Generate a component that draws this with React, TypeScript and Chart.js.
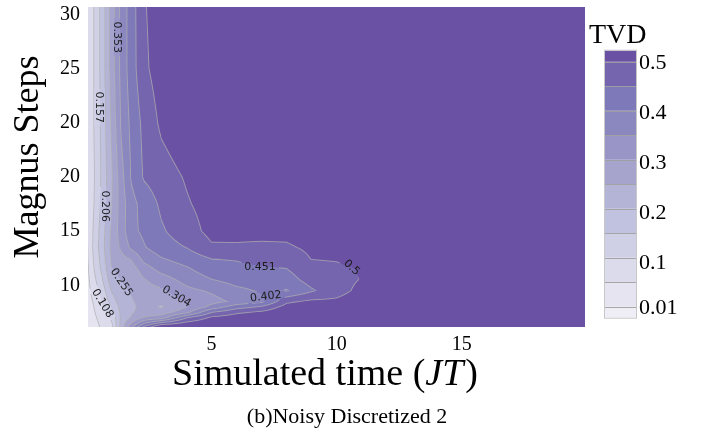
import React, { useEffect, useRef } from "react";
import { Chart, registerables } from "chart.js";

Chart.register(...registerables);

// ---------------- data ----------------
// simulated time (JT) grid nodes
const timeGrid = [0.06, 0.3, 0.6, 1.0, 1.4, 1.8, 2.3, 3, 4, 5, 6, 7, 8, 9, 10, 11, 12, 14, 20];
// Magnus steps grid nodes (axis units), top to bottom
const stepGrid = [35.67, 30, 25, 20, 17.5, 15, 13.5, 12.5, 11.5, 10.5, 9.5, 8.5, 8, 7.5, 7, 6.15];
// TVD values on the grid (one row per step value, one column per time value)
const tvdRow0 = [0.075, 0.109, 0.172, 0.276, 0.371, 0.428, 0.495, 0.53, 0.55, 0.56, 0.56, 0.56, 0.56, 0.56, 0.56, 0.56, 0.56, 0.56, 0.56];
const tvdRow1 = [0.075, 0.109, 0.172, 0.276, 0.371, 0.428, 0.49, 0.525, 0.55, 0.56, 0.56, 0.56, 0.56, 0.56, 0.56, 0.56, 0.56, 0.56, 0.56];
const tvdRow2 = [0.075, 0.109, 0.167, 0.263, 0.362, 0.415, 0.465, 0.51, 0.54, 0.555, 0.56, 0.56, 0.56, 0.56, 0.56, 0.56, 0.56, 0.56, 0.56];
const tvdRow3 = [0.07, 0.105, 0.163, 0.248, 0.337, 0.408, 0.456, 0.477, 0.505, 0.53, 0.55, 0.56, 0.56, 0.56, 0.56, 0.56, 0.56, 0.56, 0.56];
const tvdRow4 = [0.07, 0.108, 0.166, 0.252, 0.33, 0.385, 0.422, 0.46, 0.495, 0.52, 0.54, 0.55, 0.555, 0.56, 0.56, 0.56, 0.56, 0.56, 0.56];
const tvdRow5 = [0.065, 0.117, 0.178, 0.265, 0.33, 0.39, 0.412, 0.445, 0.478, 0.515, 0.512, 0.515, 0.515, 0.53, 0.54, 0.55, 0.555, 0.56, 0.56];
const tvdRow6 = [0.062, 0.122, 0.183, 0.268, 0.315, 0.365, 0.398, 0.43, 0.452, 0.493, 0.495, 0.491, 0.493, 0.51, 0.525, 0.54, 0.55, 0.56, 0.56];
const tvdRow7 = [0.06, 0.115, 0.175, 0.262, 0.29, 0.31, 0.37, 0.40, 0.425, 0.453, 0.455, 0.467, 0.47, 0.502, 0.505, 0.52, 0.55, 0.56, 0.56];
const tvdRow8 = [0.055, 0.108, 0.165, 0.252, 0.27, 0.28, 0.33, 0.37, 0.395, 0.43, 0.44, 0.445, 0.45, 0.485, 0.49, 0.503, 0.55, 0.56, 0.56];
const tvdRow9 = [0.05, 0.095, 0.148, 0.235, 0.258, 0.265, 0.30, 0.33, 0.37, 0.40, 0.42, 0.426, 0.43, 0.47, 0.48, 0.503, 0.545, 0.56, 0.56];
const tvdRow10 = [0.045, 0.08, 0.125, 0.21, 0.245, 0.26, 0.285, 0.295, 0.34, 0.36, 0.39, 0.408, 0.398, 0.445, 0.48, 0.515, 0.545, 0.56, 0.56];
const tvdRow11 = [0.04, 0.065, 0.105, 0.18, 0.235, 0.25, 0.275, 0.265, 0.31, 0.335, 0.365, 0.39, 0.49, 0.51, 0.51, 0.53, 0.55, 0.56, 0.56];
const tvdRow12 = [0.035, 0.06, 0.095, 0.16, 0.225, 0.245, 0.27, 0.25, 0.30, 0.37, 0.43, 0.458, 0.52, 0.53, 0.535, 0.54, 0.55, 0.56, 0.56];
const tvdRow13 = [0.03, 0.055, 0.085, 0.14, 0.22, 0.25, 0.275, 0.28, 0.34, 0.45, 0.49, 0.51, 0.54, 0.54, 0.545, 0.55, 0.555, 0.56, 0.56];
const tvdRow14 = [0.025, 0.05, 0.075, 0.115, 0.22, 0.26, 0.31, 0.33, 0.45, 0.51, 0.53, 0.54, 0.55, 0.55, 0.55, 0.555, 0.56, 0.56, 0.56];
const tvdRow15 = [0.02, 0.04, 0.065, 0.095, 0.23, 0.34, 0.46, 0.56, 0.56, 0.56, 0.56, 0.56, 0.56, 0.56, 0.56, 0.56, 0.56, 0.56, 0.56];
const tvdGrid = [tvdRow0, tvdRow1, tvdRow2, tvdRow3, tvdRow4, tvdRow5, tvdRow6, tvdRow7, tvdRow8, tvdRow9, tvdRow10, tvdRow11, tvdRow12, tvdRow13, tvdRow14, tvdRow15];

const levels = [0.01, 0.059, 0.108, 0.157, 0.206, 0.255, 0.304, 0.353, 0.402, 0.451, 0.5];
const bandColors = ["#efedf5", "#e6e4f0", "#dcdbec", "#cfd0e6", "#c1c2df", "#b4b4d7", "#a6a3cd", "#9995c6", "#8b87bf", "#7e79b8", "#7465ae", "#6a51a3"];

const xTickValues = [5, 10, 15];
const yTickValues = [10, 15, 20, 25, 30, 35];
const yTickLabels = ["10", "15", "20", "20", "25", "30"];
const colorbarTicks = [0.01, 0.1, 0.2, 0.3, 0.4, 0.5];
const colorbarTickLabels = ["0.01", "0.1", "0.2", "0.3", "0.4", "0.5"];

const contourLabelText = ["0.353", "0.157", "0.206", "0.255", "0.108", "0.304", "0.451", "0.402", "0.5"];
const contourLabelTime = [1.25, 0.53, 0.77, 1.41, 0.65, 3.61, 6.94, 7.17, 10.61];
const contourLabelSteps = [32.88, 26.42, 17.29, 10.28, 8.34, 8.99, 11.75, 8.99, 11.66];
const contourLabelAngle = [90, 90, 90, 56, 59, 31, 0, -7, 42];

// ---------------- helpers ----------------
const SERIF = '"Liberation Serif", serif';
const LABEL_FONT = '11px "DejaVu Sans", sans-serif';
const LINE_RGB = [176, 176, 176];
const LINE_ALPHA = 0.72;

function hexToRgb(h: string): number[] {
  return [parseInt(h.slice(1, 3), 16), parseInt(h.slice(3, 5), 16), parseInt(h.slice(5, 7), 16)];
}
const bandRgb = bandColors.map(hexToRgb);

function locate(grid: number[], val: number): [number, number] {
  const n = grid.length;
  for (let i = 0; i < n - 1; i++) {
    const a = grid[i], b = grid[i + 1];
    if ((val - a) * (val - b) <= 0) return [i, (val - a) / (b - a)];
  }
  if (Math.abs(val - grid[0]) < Math.abs(val - grid[n - 1])) return [0, 0];
  return [n - 2, 1];
}

function bandOf(v: number): number {
  let k = 0;
  while (k < levels.length && v >= levels[k]) k++;
  return k;
}

// colorbar geometry
const CB_LEFT = 605;
const CB_RIGHT = 636;
const CB_EXT = 11;
function cbY(level: number): number {
  return 306.7 - ((level - levels[0]) / (levels[1] - levels[0])) * 24.5;
}

const contourPlugin = {
  id: "contourFill",
  beforeDatasetsDraw(chart: any) {
    const { ctx, chartArea, scales } = chart;
    const xs = scales.x, ys = scales.y;
    const left = Math.round(chartArea.left), top = Math.round(chartArea.top);
    const w = Math.round(chartArea.right) - left, h = Math.round(chartArea.bottom) - top;
    const colIdx = new Int32Array(w), colFrac = new Float32Array(w);
    for (let i = 0; i < w; i++) {
      const t = xs.getValueForPixel(left + i + 0.5);
      const [k, f] = locate(timeGrid, t);
      colIdx[i] = k; colFrac[i] = f;
    }
    const vals = new Float32Array(w * h);
    for (let j = 0; j < h; j++) {
      const v = ys.getValueForPixel(top + j + 0.5);
      const [r, g] = locate(stepGrid, v);
      const row0 = tvdGrid[r], row1 = tvdGrid[r + 1];
      for (let i = 0; i < w; i++) {
        const k = colIdx[i], f = colFrac[i];
        const a = row0[k] * (1 - f) + row0[k + 1] * f;
        const b = row1[k] * (1 - f) + row1[k + 1] * f;
        vals[j * w + i] = a * (1 - g) + b * g;
      }
    }
    ctx.save();
    ctx.font = LABEL_FONT;
    const boxes = contourLabelText.map((txt, n) => ({
      cx: xs.getPixelForValue(contourLabelTime[n]) - left,
      cy: ys.getPixelForValue(contourLabelSteps[n]) - top,
      a: (contourLabelAngle[n] * Math.PI) / 180,
      hw: ctx.measureText(txt).width / 2 + 3,
      hh: 5.5,
    }));
    ctx.restore();
    const img = ctx.createImageData(w, h);
    const d = img.data;
    for (let j = 0; j < h; j++) {
      for (let i = 0; i < w; i++) {
        const p = j * w + i;
        const val = vals[p];
        const band = bandOf(val);
        const col = bandRgb[band];
        const il = Math.max(i - 1, 0), ir = Math.min(i + 1, w - 1);
        const ju = Math.max(j - 1, 0), jd = Math.min(j + 1, h - 1);
        const gx = (vals[j * w + ir] - vals[j * w + il]) / Math.max(ir - il, 1);
        const gy = (vals[jd * w + i] - vals[ju * w + i]) / Math.max(jd - ju, 1);
        const gm = Math.max(Math.hypot(gx, gy), 1e-7);
        let dist = 1e9;
        if (band > 0) dist = Math.min(dist, Math.abs(val - levels[band - 1]) / gm);
        if (band < levels.length) dist = Math.min(dist, Math.abs(levels[band] - val) / gm);
        let cov = Math.max(0, Math.min(1, 1 - dist / 0.95)) * LINE_ALPHA;
        if (cov > 0) {
          for (const bx of boxes) {
            const dx = i + 0.5 - bx.cx, dy = j + 0.5 - bx.cy;
            const u = dx * Math.cos(bx.a) + dy * Math.sin(bx.a);
            const vv = -dx * Math.sin(bx.a) + dy * Math.cos(bx.a);
            if (Math.abs(u) < bx.hw && Math.abs(vv) < bx.hh) { cov = 0; break; }
          }
        }
        const q = p * 4;
        d[q] = col[0] * (1 - cov) + LINE_RGB[0] * cov;
        d[q + 1] = col[1] * (1 - cov) + LINE_RGB[1] * cov;
        d[q + 2] = col[2] * (1 - cov) + LINE_RGB[2] * cov;
        d[q + 3] = 255;
      }
    }
    ctx.putImageData(img, left, top);
  },
  afterDatasetsDraw(chart: any) {
    const { ctx, scales } = chart;
    ctx.save();
    ctx.font = LABEL_FONT;
    ctx.fillStyle = "#1c1c1c";
    ctx.textAlign = "center";
    ctx.textBaseline = "middle";
    contourLabelText.forEach((txt, n) => {
      const px = scales.x.getPixelForValue(contourLabelTime[n]);
      const py = scales.y.getPixelForValue(contourLabelSteps[n]);
      ctx.save();
      ctx.translate(px, py);
      ctx.rotate((contourLabelAngle[n] * Math.PI) / 180);
      ctx.fillText(txt, 0, 0.5);
      ctx.restore();
    });
    ctx.restore();
  },
  afterDraw(chart: any) {
    const { ctx } = chart;
    ctx.save();
    // colorbar bands
    for (let b = 0; b < bandColors.length; b++) {
      const yBottom = b === 0 ? cbY(levels[0]) + CB_EXT : cbY(levels[b - 1]);
      const yTop = b === levels.length ? cbY(levels[levels.length - 1]) - CB_EXT : cbY(levels[b]);
      ctx.fillStyle = bandColors[b];
      ctx.fillRect(CB_LEFT, yTop, CB_RIGHT - CB_LEFT, yBottom - yTop);
    }
    ctx.strokeStyle = "rgba(160,160,160,0.9)";
    ctx.lineWidth = 1;
    levels.forEach((lv) => {
      const y = Math.round(cbY(lv)) + 0.5;
      ctx.beginPath();
      ctx.moveTo(CB_LEFT, y);
      ctx.lineTo(CB_RIGHT, y);
      ctx.stroke();
    });
    ctx.strokeStyle = "rgba(200,200,200,1)";
    ctx.strokeRect(CB_LEFT - 0.5, cbY(levels[levels.length - 1]) - CB_EXT - 0.5, CB_RIGHT - CB_LEFT + 1, cbY(levels[0]) - cbY(levels[levels.length - 1]) + 2 * CB_EXT + 1);
    // colorbar ticks
    ctx.fillStyle = "#000";
    ctx.font = `22px ${SERIF}`;
    ctx.textAlign = "left";
    ctx.textBaseline = "middle";
    colorbarTicks.forEach((tv, n) => {
      ctx.fillText(colorbarTickLabels[n], 639, cbY(tv) + 1.5);
    });
    // colorbar title
    ctx.font = `28px ${SERIF}`;
    ctx.textBaseline = "alphabetic";
    ctx.fillText("TVD", 589, 43);
    // y axis title
    ctx.save();
    ctx.font = `36px ${SERIF}`;
    ctx.textAlign = "center";
    ctx.translate(38, 157);
    ctx.rotate(-Math.PI / 2);
    ctx.fillText("Magnus Steps", 0, 0);
    ctx.restore();
    // x axis title with italic JT
    const partA = "Simulated time (";
    const partB = "JT";
    const partC = ")";
    const fs = 38;
    ctx.font = `${fs}px ${SERIF}`;
    const wA = ctx.measureText(partA).width;
    const wC = ctx.measureText(partC).width;
    ctx.font = `italic ${fs}px ${SERIF}`;
    const wB = ctx.measureText(partB).width + 2;
    const total = wA + wB + wC;
    const x0 = 325 - total / 2;
    ctx.textAlign = "left";
    ctx.font = `${fs}px ${SERIF}`;
    ctx.fillText(partA, x0, 385);
    ctx.font = `italic ${fs}px ${SERIF}`;
    ctx.fillText(partB, x0 + wA, 385);
    ctx.font = `${fs}px ${SERIF}`;
    ctx.fillText(partC, x0 + wA + wB, 385);
    // caption
    ctx.font = `22px ${SERIF}`;
    ctx.textAlign = "center";
    ctx.fillText("(b)Noisy Discretized 2", 347, 423);
    ctx.restore();
  },
};

export default function App() {
  const ref = useRef<HTMLCanvasElement | null>(null);
  useEffect(() => {
    document.body.style.margin = "0";
    const canvas = ref.current;
    if (!canvas) return;
    const chart = new Chart(canvas, {
      type: "scatter",
      data: { datasets: [{ data: [], pointRadius: 0 }] },
      options: {
        animation: false,
        responsive: false,
        devicePixelRatio: 1,
        layout: { padding: { top: 7, right: 142, left: 0, bottom: 0 } },
        plugins: { legend: { display: false }, tooltip: { enabled: false } },
        scales: {
          x: {
            type: "linear",
            min: 0.06,
            max: 19.93,
            grid: { display: false, drawTicks: false },
            border: { display: false },
            afterBuildTicks: (s: any) => { s.ticks = xTickValues.map((v) => ({ value: v })); },
            ticks: { font: { family: SERIF, size: 20 }, color: "#000", padding: 6, maxRotation: 0, autoSkip: false },
            afterFit: (s: any) => { s.height = 109; s.paddingLeft = 0; s.paddingRight = 0; },
          },
          y: {
            type: "linear",
            min: 6.15,
            max: 35.67,
            grid: { display: false, drawTicks: false },
            border: { display: false },
            afterBuildTicks: (s: any) => { s.ticks = yTickValues.map((v) => ({ value: v })); },
            ticks: {
              font: { family: SERIF, size: 20 },
              color: "#000",
              padding: 8,
              autoSkip: false,
              callback: (_v: any, i: number) => yTickLabels[i],
            },
            afterFit: (s: any) => { s.width = 88; s.paddingTop = 0; s.paddingBottom = 0; },
          },
        },
      },
      plugins: [contourPlugin],
    } as any);
    return () => chart.destroy();
  }, []);
  return <canvas ref={ref} width={727} height={436} style={{ display: "block", width: 727, height: 436 }} />;
}
